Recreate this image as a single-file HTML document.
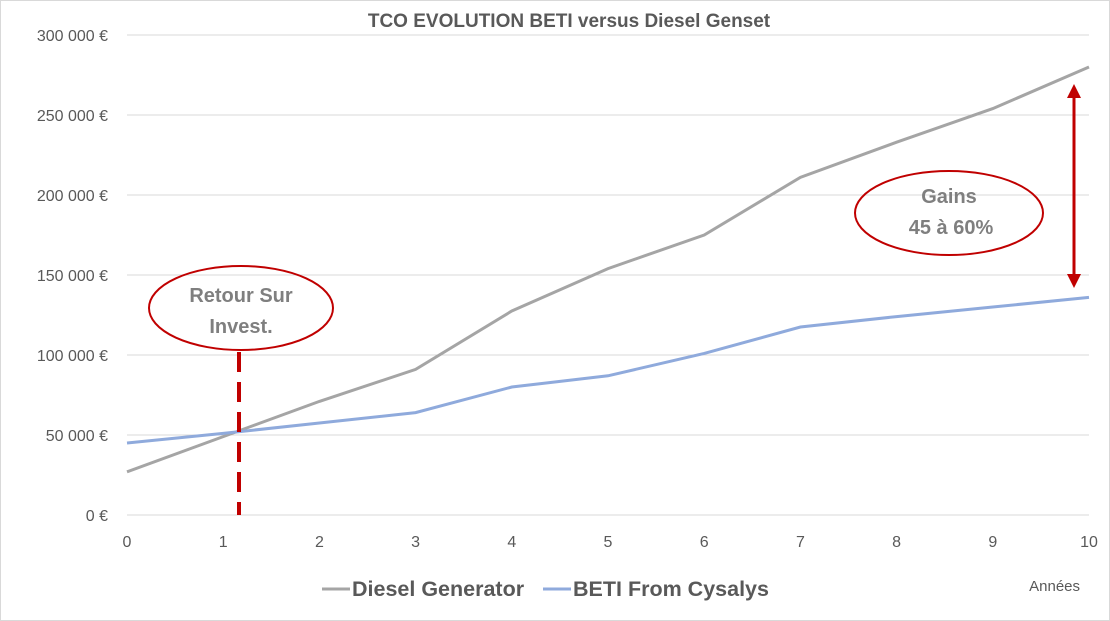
<!DOCTYPE html>
<html><head><meta charset="utf-8"><style>
body{margin:0;background:#fff;}
svg{display:block;font-family:"Liberation Sans",sans-serif;}
</style></head><body>
<svg id="chart" width="1110" height="621">
<rect x="0.5" y="0.5" width="1109" height="620" fill="#fff" stroke="#d9d9d9"/>
<text x="569" y="27" text-anchor="middle" font-size="19" font-weight="bold" fill="#595959">TCO EVOLUTION BETI versus Diesel Genset</text>
<g id="grid"></g><g id="series"></g>
<text x="1080" y="591" text-anchor="end" font-size="15" fill="#595959">Années</text>
<g>
<line x1="322" y1="589" x2="350" y2="589" stroke="#a5a5a5" stroke-width="3"/>
<text x="352" y="596" font-size="21.5" font-weight="bold" fill="#595959">Diesel Generator</text>
<line x1="543" y1="589" x2="571" y2="589" stroke="#8faadc" stroke-width="3"/>
<text x="573" y="596" font-size="21.5" font-weight="bold" fill="#595959">BETI From Cysalys</text>
</g>
<line x1="239" y1="352" x2="239" y2="515" stroke="#c00000" stroke-width="4" stroke-dasharray="20,10"/>
<ellipse cx="241" cy="308" rx="92" ry="42" fill="none" stroke="#c00000" stroke-width="2"/>
<text x="241" y="302" text-anchor="middle" font-size="20" font-weight="bold" fill="#7f7f7f">Retour Sur</text>
<text x="241" y="333" text-anchor="middle" font-size="20" font-weight="bold" fill="#7f7f7f">Invest.</text>
<ellipse cx="949" cy="213" rx="94" ry="42" fill="none" stroke="#c00000" stroke-width="2"/>
<text x="949" y="203" text-anchor="middle" font-size="20" font-weight="bold" fill="#7f7f7f">Gains</text>
<text x="951" y="234" text-anchor="middle" font-size="20" font-weight="bold" fill="#7f7f7f">45 à 60%</text>
<line x1="1074" y1="96" x2="1074" y2="276" stroke="#c00000" stroke-width="3"/>
<polygon points="1074,84 1067,98 1081,98" fill="#c00000"/>
<polygon points="1074,288 1067,274 1081,274" fill="#c00000"/>
</svg>
<script>
const years=[0,1,2,3,4,5,6,7,8,9,10];
const diesel=[27000,49000,71000,91000,127500,154000,175000,211000,233000,254000,280000];
const beti=[45000,51000,57500,64000,80000,87000,101000,117500,124000,130000,136000];
const yTicks=[0,50000,100000,150000,200000,250000,300000];
const yLabels=["0 €","50 000 €","100 000 €","150 000 €","200 000 €","250 000 €","300 000 €"];
const NS="http://www.w3.org/2000/svg";
const X=v=>127+v*(1089-127)/10;
const Y=v=>515-v*480/300000;
const grid=document.getElementById('grid'),ser=document.getElementById('series');
function mk(t,a,p){const e=document.createElementNS(NS,t);for(const k in a)e.setAttribute(k,a[k]);p.appendChild(e);return e;}
yTicks.forEach((t,i)=>{
 const l=mk('line',{x1:127,x2:1089,y1:Y(t),y2:Y(t),stroke:'#d9d9d9','stroke-width':1},grid);
 
 
 const tx=mk('text',{x:108,y:Y(t)+6,'text-anchor':'end','font-size':16,fill:'#595959'},grid);
 tx.textContent=yLabels[i];
 
 
});
years.forEach(yr=>{
 const tx=mk('text',{x:X(yr),y:547,'text-anchor':'middle','font-size':16,fill:'#595959'},grid);
 tx.textContent=yr;
 
 
});
const p1=mk('polyline',{points:years.map((y,i)=>X(y)+','+Y(diesel[i])).join(' '),fill:'none',stroke:'#a5a5a5','stroke-width':3},ser);


const p2=mk('polyline',{points:years.map((y,i)=>X(y)+','+Y(beti[i])).join(' '),fill:'none',stroke:'#8faadc','stroke-width':3},ser);


</script>
</body></html>
